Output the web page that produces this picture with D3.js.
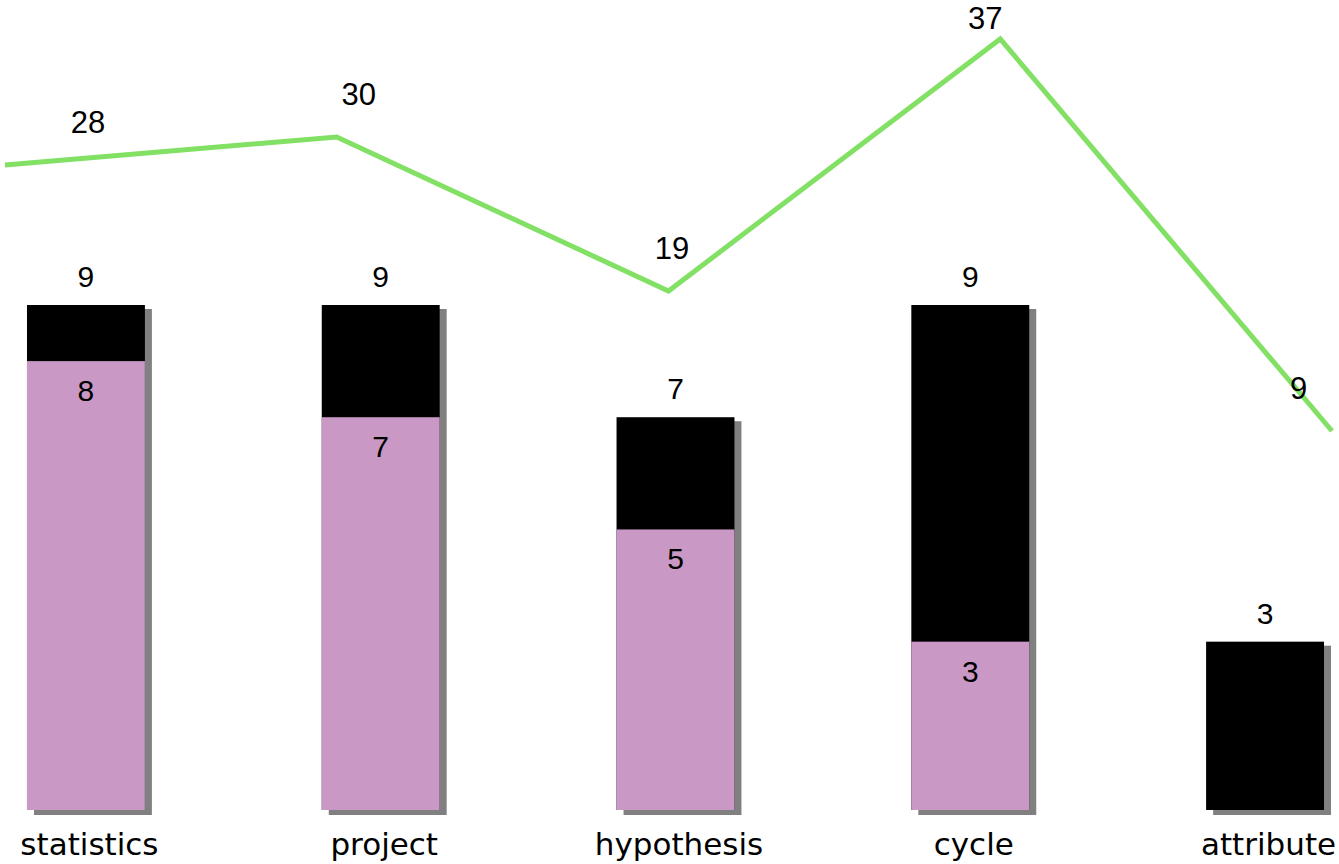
<!DOCTYPE html>
<html>
<head>
<meta charset="utf-8">
<script src="https://cdn.jsdelivr.net/npm/d3@7"></script>
<style>
  body { margin: 0; background: #fff; }
  svg { display: block; }
</style>
</head>
<body>
<script>
// chart values
var categories = ["statistics", "project", "hypothesis", "cycle", "attribute"];
var totalValues = [9, 9, 7, 9, 3];      // black bars
var pinkValues = [8, 7, 5, 3, 0];       // pink bars in front
var lineValues = [28, 30, 19, 37, 9];   // green line

var width = 1339,
    height = 864;

var shadowDx = 7, shadowDy = 4;

var svg = d3.select("body").append("svg")
        .attr("width", width)
        .attr("height", height);

var x = d3.scaleBand()
        .domain(categories)
        .range([0, 1351])
        .paddingInner(0.6)
        .paddingOuter(27 / 295);

var y = d3.scaleLinear()
        .domain([0, 9])
        .range([810, 305]);

var xLine = d3.scalePoint()
        .domain(categories)
        .range([5, 1332]);

var yLine = d3.scaleLinear()
        .domain([0, 37])
        .range([557, 39]);

var rows = categories.map(function (c, i) {
  return { cat: c, total: totalValues[i], pink: pinkValues[i], line: lineValues[i] };
});

var bars = svg.append("g").attr("class", "bars");

// shadows
bars.selectAll("rect.shadow")
    .data(rows)
    .enter().append("rect")
    .attr("class", "shadow")
    .attr("x", function (d) { return x(d.cat) + shadowDx; })
    .attr("y", function (d) { return y(d.total) + shadowDy; })
    .attr("width", x.bandwidth())
    .attr("height", function (d) { return y(0) - y(d.total) + 1; })
    .attr("fill", "#808080");

bars.selectAll("rect.total")
    .data(rows)
    .enter().append("rect")
    .attr("class", "total")
    .attr("x", function (d) { return x(d.cat); })
    .attr("y", function (d) { return y(d.total); })
    .attr("width", x.bandwidth())
    .attr("height", function (d) { return y(0) - y(d.total); })
    .attr("fill", "#000");

bars.selectAll("rect.pink")
    .data(rows.filter(function (d) { return d.pink > 0; }))
    .enter().append("rect")
    .attr("class", "pink")
    .attr("x", function (d) { return x(d.cat); })
    .attr("y", function (d) { return y(d.pink); })
    .attr("width", x.bandwidth())
    .attr("height", function (d) { return y(0) - y(d.pink); })
    .attr("fill", "#C998C5");

var numFont = "'Liberation Sans', Arial, sans-serif";
var center = function (d) { return x(d.cat) + x.bandwidth() / 2; };

// labels above black bars
svg.append("g").selectAll("text")
    .data(rows)
    .enter().append("text")
    .attr("x", center)
    .attr("y", function (d) { return y(d.total) - 18; })
    .attr("text-anchor", "middle")
    .style("font-family", numFont)
    .style("font-size", "30px")
    .text(function (d) { return d.total; });

// labels inside pink bars
svg.append("g").selectAll("text")
    .data(rows.filter(function (d) { return d.pink > 0; }))
    .enter().append("text")
    .attr("x", center)
    .attr("y", function (d) { return y(d.pink) + 40; })
    .attr("text-anchor", "middle")
    .style("font-family", numFont)
    .style("font-size", "30px")
    .text(function (d) { return d.pink; });

// green line
var line = d3.line()
        .x(function (d) { return xLine(d.cat); })
        .y(function (d) { return yLine(d.line); });

svg.append("path")
    .datum(rows)
    .attr("d", line)
    .attr("fill", "none")
    .attr("stroke", "#82E064")
    .attr("stroke-width", 5)
    .attr("stroke-linejoin", "miter");

// line labels, between the bar centre and the line point, kept inside the picture
var firstCenter = center(rows[0]);
svg.append("g").selectAll("text")
    .data(rows)
    .enter().append("text")
    .attr("x", function (d) {
      var lx = (xLine(d.cat) + center(d)) / 2;
      return Math.min(width - 26, Math.max(firstCenter + 2, lx));
    })
    .attr("y", function (d) { return Math.max(29, yLine(d.line) - 32); })
    .attr("text-anchor", "middle")
    .style("font-family", numFont)
    .style("font-size", "31px")
    .text(function (d) { return d.line; });

// category axis
var xAxis = d3.axisBottom(x).tickSize(0).tickPadding(0);

var axisG = svg.append("g")
    .attr("class", "x axis")
    .attr("transform", "translate(" + (shadowDx / 2) + ",0)")
    .call(xAxis);

axisG.select(".domain").remove();
axisG.selectAll("text")
    .attr("y", 855)
    .attr("dy", null)
    .style("font-family", "'DejaVu Sans', Verdana, sans-serif")
    .style("font-size", "31px")
    .attr("fill", "#000");
</script>
</body>
</html>
